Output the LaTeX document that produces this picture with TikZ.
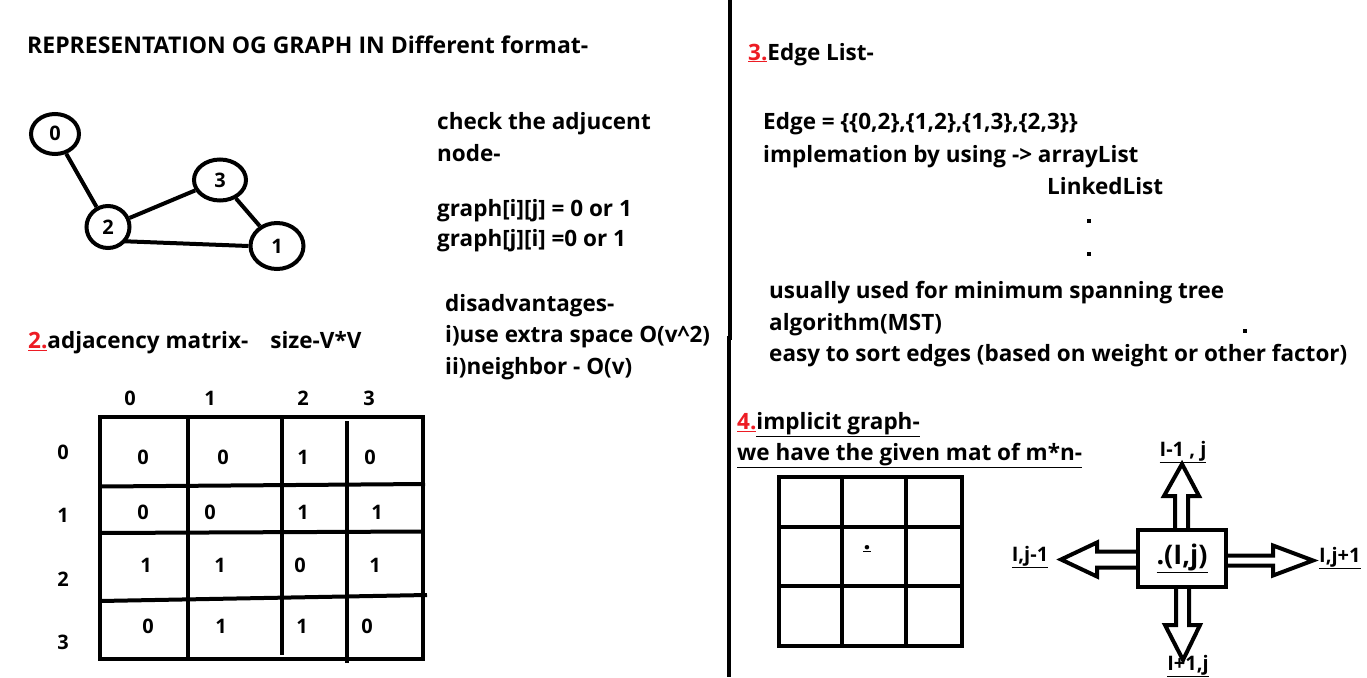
\documentclass[tikz,border=0pt]{standalone}
\usepackage{fontspec}
\setmainfont{Open Sans}
\usetikzlibrary{shapes.geometric,calc}
\definecolor{pred}{HTML}{ED1C24}
\newcommand{\rn}[1]{\textcolor{pred}{\underline{#1}}}
\tikzset{
  txt/.style={anchor=base west,inner sep=0pt,font=\fontsize{22.5}{26}\selectfont\bfseries},
  num/.style={anchor=center,inner sep=0pt,font=\fontsize{20}{24}\selectfont\bfseries},
  vert/.style={draw,ellipse,line width=4pt,inner sep=0pt,font=\fontsize{20}{24}\selectfont\bfseries},
  thick4/.style={line width=4pt},
  lbl/.style={anchor=center,inner sep=0pt,font=\fontsize{20}{24}\selectfont\bfseries},
  barrow/.style={line width=4pt,line join=miter},
  dotm/.style={fill,inner sep=0pt,minimum size=4pt}
}
\begin{document}
\begin{tikzpicture}[x=1pt,y=-1pt]
\fill[white] (0,0) rectangle (1367,677);
\useasboundingbox (0,0) rectangle (1367,677);
% divider
\draw[thick4] (729.5,0) -- (729.5,338) -- (728.5,338) -- (728.5,677);
% title
\node[txt,font=\fontsize{23}{27}\selectfont\bfseries] (title) at (27,53) {REPRESENTATION OG GRAPH IN Different format-};
% graph
\node[vert,minimum width=48pt,minimum height=40pt] (n0) at (55,134) {\raisebox{2pt}{0}\hspace{4pt}};
\node[vert,minimum width=52pt,minimum height=41pt] (n3) at (220,180) {3};
\node[vert,minimum width=43pt,minimum height=42pt] (n2) at (108,227) {\raisebox{-3pt}{2}};
\node[vert,minimum width=53pt,minimum height=46pt] (n1) at (277,246) {1};
\draw[thick4] (n0) -- (n2);
\draw[thick4] (n2) -- (n3);
\draw[thick4] (n3) -- (n1);
\draw[thick4] (n2.south east) ++(0,-2) coordinate (e21) -- (n1.west);
% middle notes
\node[txt] (t1) at (437,129) {check the adjucent};
\node[txt] (t2) at (437,161) {node-};
\node[txt] (t3) at (437,216) {graph[i][j] = 0 or 1};
\node[txt] (t4) at (437,246) {graph[j][i] =0 or 1};
\node[txt] (t5) at (445,311) {disadvantages-};
\node[txt] (t6) at (445,342) {i)use extra space O(v\^{}2)};
\node[txt] (t7) at (445,374) {ii)neighbor - O(v)};
% section 2
\node[txt] (s2) at (28,348) {\rn{2.}adjacency matrix-\hspace{22pt}size-V*V};
% matrix
\draw[thick4] (100,417) rectangle (423,659);
\draw[thick4] (188,417) -- (188,659);
\draw[thick4] (282,417) -- (282,655);
\draw[thick4] (347,421) -- (347,663);
\draw[thick4] (100,486.5) -- (425,484);
\draw[thick4] (100,533) -- (423,531.5);
\draw[thick4] (100,601) -- (427,595);
\foreach \t/\x in {0/130,1/210,2/303,3/369} \node[num] (c\t) at (\x,398) {\t};
\foreach \t/\y in {0/452,1/515,2/579,3/642} \node[num] (r\t) at (63,\y) {\t};
\node[num] (m00) at (143,457) {0}; \node[num] (m01) at (223,457) {0}; \node[num] (m02) at (303,457) {1}; \node[num] (m03) at (370,457) {0};
\node[num] (m10) at (143,512) {0}; \node[num] (m11) at (210,512) {0}; \node[num] (m12) at (303,512) {1}; \node[num] (m13) at (377,512) {1};
\node[num] (m20) at (146,565) {1}; \node[num] (m21) at (220,565) {1}; \node[num] (m22) at (300,565) {0}; \node[num] (m23) at (375,565) {1};
\node[num] (m30) at (148,626) {0}; \node[num] (m31) at (221,626) {1}; \node[num] (m32) at (302,626) {1}; \node[num] (m33) at (367,626) {0};
% section 3
\node[txt] (s3) at (748,60) {\rn{3.}Edge List-};
\node[txt] (e1) at (763,129) {Edge = \{\{0,2\},\{1,2\},\{1,3\},\{2,3\}\}};
\node[txt] (e2) at (763,162) {implemation by using -> arrayList};
\node[txt] (e3) at (1047,194) {LinkedList};
\node[dotm] (d1) at (1089,221) {};
\node[dotm] (d2) at (1089,254) {};
\node[txt] (e4) at (769,298) {usually used for minimum spanning tree};
\node[txt] (e5) at (769,330) {algorithm(MST)};
\node[dotm] (d3) at (1245,331) {};
\node[txt] (e6) at (769,361) {easy to sort edges (based on weight or other factor)};
% section 4
\node[txt] (s4) at (737,429) {\rn{4.}\underline{implicit graph-}};
\node[txt] (s4b) at (737,460) {\underline{we have the given mat of m*n-}};
\draw[thick4] (779,477) rectangle (962,646);
\draw[thick4] (842,477) -- (842,646);
\draw[thick4] (906,477) -- (906,646);
\draw[thick4] (779,527) -- (962,527);
\draw[thick4] (779,586) -- (962,586);
\node[num,font=\fontsize{26}{30}\selectfont\bfseries] (cd) at (867,549) {\underline{.}};
% center box and block arrows
\node[draw,line width=4pt,minimum width=88pt,minimum height=57pt,inner sep=0pt,font=\fontsize{27}{31}\selectfont\bfseries] (box) at (1182,558.5) {\underline{.(I,j)}};
\draw[barrow] ([xshift=-7pt]box.north) -- ++(0,-32) -- ++(-11,0) -- ++(18,-32) -- ++(17,32) -- ++(-11,0) -- ++(0,32);
\draw[barrow] ([xshift=-6pt]box.south) -- ++(0,36) -- ++(-11,0) -- ++(18,35) -- ++(17,-35) -- ++(-11,0) -- ++(0,-36);
\draw[barrow] ([yshift=7pt]box.west) -- ++(-39,0) -- ++(0,-9) -- ++(-36,17) -- ++(36,17) -- ++(0,-9) -- ++(39,0);
\draw[barrow] ([yshift=3pt]box.east) -- ++(45,0) -- ++(0,-10) -- ++(40,15) -- ++(-40,15) -- ++(0,-10) -- ++(-45,0);
\node[lbl] (lu) at (1183,452) {\underline{I-1 , j}};
\node[lbl] (ll) at (1030,557) {\underline{I,j-1}};
\node[lbl,anchor=west] (lr) at (1319,558) {\underline{I,j+1}};
\node[lbl] (ld) at (1188,666) {\underline{I+1,j}};
\end{tikzpicture}
\end{document}
